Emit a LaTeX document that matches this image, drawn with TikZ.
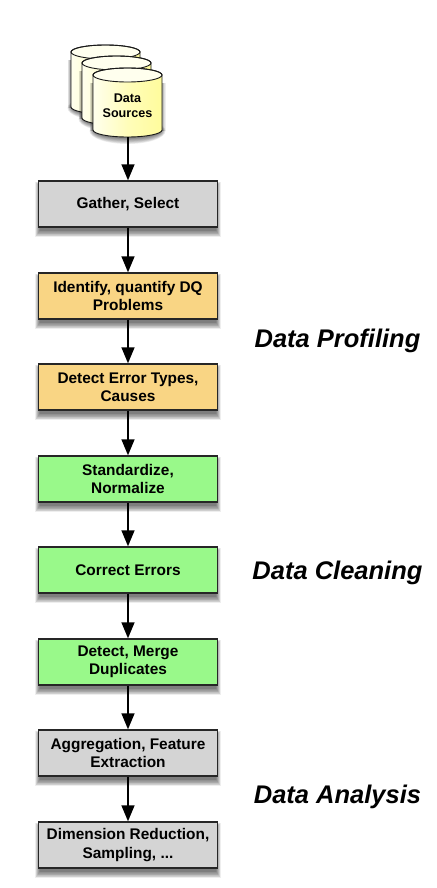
\documentclass[tikz,border=0pt]{standalone}
\usepackage{fontspec}
\setmainfont{Liberation Sans}
\usetikzlibrary{arrows.meta}
\definecolor{grayfill}{HTML}{D4D4D4}
\definecolor{orangefill}{HTML}{F9D584}
\definecolor{greenfill}{HTML}{99F98A}
\definecolor{cylyellow}{HTML}{FFFC9C}
\definecolor{cylcream}{HTML}{FFFFEE}
\tikzset{
  x=1pt,y=-1pt,
  flowbox/.style={draw=black!85,line width=1.1pt,minimum width=179pt,minimum height=46pt,inner sep=0pt,align=center,font=\fontsize{15.4}{18.2}\selectfont\bfseries,text=black},
  graybox/.style={flowbox,fill=grayfill},
  orangebox/.style={flowbox,fill=orangefill},
  greenbox/.style={flowbox,fill=greenfill},
  flow/.style={line width=2.6pt,-{Triangle[length=16pt,width=12.5pt]}},
  phase/.style={font=\fontsize{25.5}{30}\selectfont\bfseries\itshape,text=black,anchor=center},
  cyltext/.style={align=center,font=\fontsize{12.6}{15}\selectfont\bfseries,text=black,inner sep=0pt},
}
% soft shadow of a box centred at (#1,#2)
\newcommand{\softshadow}[2]{%
  \foreach \g in {10,9,8,7,6,5,4,3,2,1}{%
    \fill[black,opacity=0.065] (#1-89.5-\g*0.55+2,#2-23+5-\g*0.4) rectangle (#1+89.5+\g*0.55-2,#2+23+3+\g*0.7);
  }%
}
% outline of a cylinder: left x #1, top ellipse centre y #2
\newcommand{\cylpath}[2]{(#1,#2) -- (#1,#2+55) .. controls (#1,#2+58.9) and (#1+15.45,#2+62) .. (#1+34.5,#2+62) .. controls (#1+53.55,#2+62) and (#1+69,#2+58.9) .. (#1+69,#2+55) -- (#1+69,#2) .. controls (#1+69,#2-3.9) and (#1+53.55,#2-7) .. (#1+34.5,#2-7) .. controls (#1+15.45,#2-7) and (#1,#2-3.9) .. (#1,#2) -- cycle}
\newcommand{\cyl}[2]{%
  \foreach \g in {10,9,8,7,6,5,4,3,2,1}{%
    \fill[black,opacity=0.065] (#1+34.5,#2+56) ellipse[x radius=34.5+\g*0.55-2,y radius=6+\g*0.7];
    \fill[black,opacity=0.065] (#1-\g*0.55+2,#2+8) rectangle (#1+69+\g*0.55-2,#2+56);
  }%
  \path[left color=cylcream,right color=cylyellow,middle color=cylyellow!70] \cylpath{#1}{#2};
  \fill[cylcream] (#1+34.5,#2) ellipse[x radius=34.5,y radius=7];
  \draw[black!90,line width=0.9pt,line join=round] \cylpath{#1}{#2};
  \draw[black!90,line width=0.9pt] (#1+34.5,#2) ellipse[x radius=34.5,y radius=7];
}
\begin{document}
\begin{tikzpicture}
\useasboundingbox (0,0) rectangle (436,888);
\fill[white] (0,0) rectangle (436,888);
\cyl{71}{52}
\cyl{82}{63}
\cyl{93}{75}
\node[cyltext] (src) at (127.5,106) {Data\\Sources};
\coordinate (srcbottom) at (128,137);
\softshadow{128}{204}
\softshadow{128}{296}
\softshadow{128}{387}
\softshadow{128}{479}
\softshadow{128}{570}
\softshadow{128}{662}
\softshadow{128}{753}
\softshadow{128}{845}
\node[graybox,text height=11pt] (gather) at (128,204) {Gather, Select};
\node[orangebox] (identify) at (128,296) {Identify, quantify DQ\\Problems};
\node[orangebox] (errtypes) at (128,387) {Detect Error Types,\\Causes};
\node[greenbox] (standard) at (128,479) {Standardize,\\Normalize};
\node[greenbox,text height=11pt] (correct) at (128,570) {Correct Errors};
\node[greenbox] (dups) at (128,662) {Detect, Merge\\Duplicates};
\node[graybox] (aggr) at (128,753) {Aggregation, Feature\\Extraction};
\node[graybox] (dimred) at (128,845) {Dimension Reduction,\\Sampling, ...};
\draw[flow] (srcbottom) -- (gather.north);
\draw[flow] (gather) -- (identify);
\draw[flow] (identify) -- (errtypes);
\draw[flow] (errtypes) -- (standard);
\draw[flow] (standard) -- (correct);
\draw[flow] (correct) -- (dups);
\draw[flow] (dups) -- (aggr);
\draw[flow] (aggr) -- (dimred);
\node[phase] (profiling) at (337.5,341) {Data Profiling};
\node[phase] (cleaning) at (337.5,573) {Data Cleaning};
\node[phase] (analysis) at (337.5,797) {Data Analysis};
\end{tikzpicture}
\end{document}
